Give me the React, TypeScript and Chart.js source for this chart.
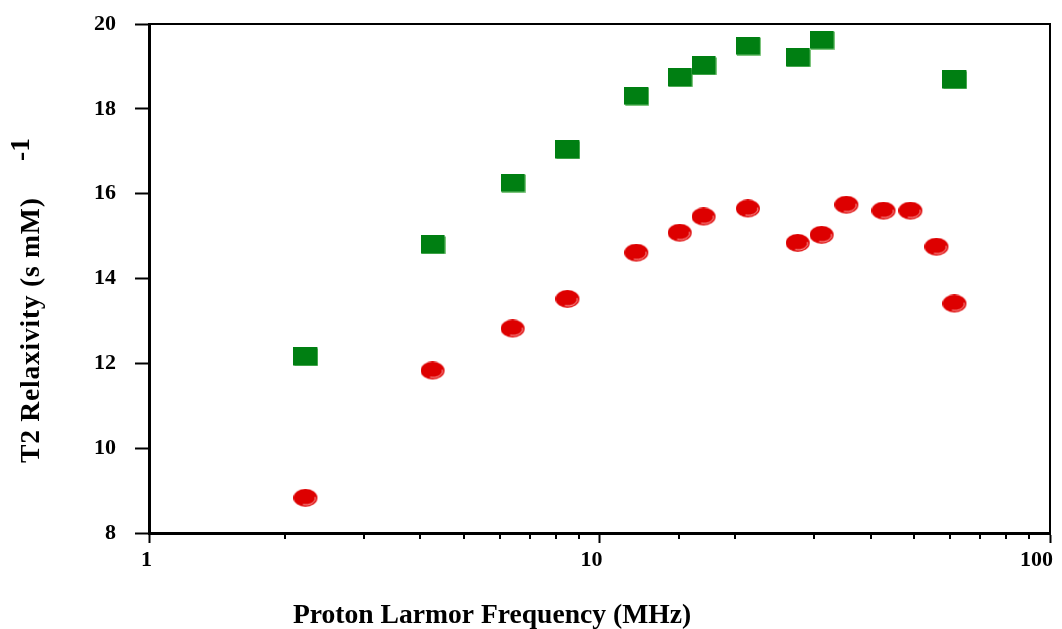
import React, { useEffect, useRef } from "react";
import { Chart, registerables } from "chart.js";

Chart.register(...registerables);

// ---- Data ----
const greenFreqs = [2.23, 4.27, 6.43, 8.51, 12.1, 15.1, 17.06, 21.4, 27.6, 31.2, 61.5];
const greenR2 = [12.15, 14.79, 16.25, 17.03, 18.3, 18.73, 19.01, 19.48, 19.2, 19.62, 18.68];
const redFreqs = [2.23, 4.27, 6.43, 8.51, 12.1, 15.1, 17.06, 21.4, 27.6, 31.2, 35.4, 42.8, 49.1, 56.1, 61.5];
const redR2 = [8.82, 11.82, 12.81, 13.51, 14.6, 15.07, 15.45, 15.64, 14.83, 15.02, 15.73, 15.59, 15.59, 14.74, 13.4];
const xMajorLabels = [1, 10, 100];
const xTitle = "Proton Larmor Frequency (MHz)";
const yTitle = "T2 Relaxivity (s mM)";
const yTitleSup = "-1";

const FONT_FAMILY = '"Liberation Serif", "Times New Roman", serif';

function makeRectMarker(): HTMLCanvasElement {
  const c = document.createElement("canvas");
  c.width = 25;
  c.height = 19;
  const g = c.getContext("2d")!;
  g.fillStyle = "#007f12";
  g.fillRect(0, 0, 24, 18);
  g.strokeStyle = "rgba(110,190,110,0.9)";
  g.lineWidth = 1;
  g.beginPath();
  g.moveTo(24.5, 1);
  g.lineTo(24.5, 18.5);
  g.lineTo(1, 18.5);
  g.stroke();
  return c;
}

function makeEllipseMarker(): HTMLCanvasElement {
  const c = document.createElement("canvas");
  c.width = 25;
  c.height = 19;
  const g = c.getContext("2d")!;
  g.fillStyle = "#dd0000";
  g.beginPath();
  g.ellipse(12, 9, 12, 9, 0, 0, Math.PI * 2);
  g.fill();
  g.strokeStyle = "rgba(255,190,190,0.9)";
  g.lineWidth = 1;
  g.beginPath();
  g.ellipse(12.5, 9.5, 9.5, 6.5, 0, -0.2, Math.PI * 0.6);
  g.stroke();
  return c;
}

const frameAndTextPlugin = {
  id: "frameAndText",
  afterDraw(chart: any) {
    const { ctx, chartArea } = chart;
    const xs = chart.scales.x;
    ctx.save();
    ctx.strokeStyle = "#000";
    // top and right thin frame
    ctx.lineWidth = 2;
    ctx.beginPath();
    ctx.moveTo(chartArea.left, chartArea.top);
    ctx.lineTo(chartArea.right, chartArea.top);
    ctx.lineTo(chartArea.right, chartArea.bottom);
    ctx.stroke();
    // minor ticks on x axis
    ctx.lineWidth = 2;
    for (const t of xs.ticks) {
      if (xMajorLabels.includes(t.value)) continue;
      const px = Math.round(xs.getPixelForValue(t.value));
      ctx.beginPath();
      ctx.moveTo(px, chartArea.bottom);
      ctx.lineTo(px, chartArea.bottom + 6);
      ctx.stroke();
    }
    // titles
    ctx.fillStyle = "#000";
    ctx.font = `bold 27.6px ${FONT_FAMILY}`;
    ctx.textAlign = "center";
    ctx.textBaseline = "alphabetic";
    ctx.fillText(xTitle, 492, 623);
    ctx.save();
    ctx.translate(39, 463);
    ctx.rotate(-Math.PI / 2);
    ctx.textAlign = "left";
    try {
      (ctx as any).letterSpacing = "0.75px";
    } catch (e) {}
    ctx.fillText(yTitle, 0, 0);
    try {
      (ctx as any).letterSpacing = "0px";
    } catch (e) {}
    ctx.restore();
    ctx.save();
    ctx.translate(29, 161);
    ctx.rotate(-Math.PI / 2);
    ctx.textAlign = "left";
    ctx.fillText(yTitleSup, 0, 0);
    ctx.restore();
    ctx.restore();
  },
};

export default function App() {
  const ref = useRef<HTMLCanvasElement | null>(null);

  useEffect(() => {
    if (!ref.current) return;
    const rectImg = makeRectMarker();
    const ellImg = makeEllipseMarker();
    const chart = new Chart(ref.current, {
      type: "scatter",
      data: {
        datasets: [
          {
            label: "green",
            data: greenFreqs.map((f, i) => ({ x: f, y: greenR2[i] })),
            pointStyle: rectImg as any,
            backgroundColor: "#007f12",
          },
          {
            label: "red",
            data: redFreqs.map((f, i) => ({ x: f, y: redR2[i] })),
            pointStyle: ellImg as any,
            backgroundColor: "#dd0000",
          },
        ],
      },
      options: {
        animation: false,
        responsive: false,
        devicePixelRatio: 1,
        layout: { padding: { top: 24, right: 12, left: 0, bottom: 0 } },
        plugins: {
          legend: { display: false },
          tooltip: { enabled: false },
          title: { display: false },
        },
        events: [],
        scales: {
          x: {
            type: "logarithmic",
            min: 1,
            max: 100,
            position: "bottom",
            afterFit: (s: any) => {
              s.height = 96;
              s.paddingLeft = 0;
              s.paddingRight = 0;
            },
            border: { display: true, color: "#000", width: 3 },
            grid: {
              drawOnChartArea: false,
              drawTicks: true,
              tickLength: 10,
              tickWidth: 2,
              tickColor: (c: any) =>
                c.tick && xMajorLabels.includes(c.tick.value) ? "#000" : "rgba(0,0,0,0)",
            },
            ticks: {
              autoSkip: false,
              maxRotation: 0,
              minRotation: 0,
              align: "end",
              labelOffset: 3,
              padding: 4,
              color: "#000",
              font: { family: FONT_FAMILY, size: 22, weight: "bold" },
              callback: (v: any) => (xMajorLabels.includes(Number(v)) ? String(v) : ""),
            },
          },
          y: {
            type: "linear",
            min: 8,
            max: 20,
            afterFit: (s: any) => {
              s.width = 149;
              s.paddingTop = 0;
              s.paddingBottom = 0;
            },
            border: { display: true, color: "#000", width: 3 },
            grid: {
              drawOnChartArea: false,
              drawTicks: true,
              tickLength: 14,
              tickWidth: 2,
              tickColor: "#000",
            },
            ticks: {
              stepSize: 2,
              padding: 19,
              color: "#000",
              font: { family: FONT_FAMILY, size: 22, weight: "bold" },
            },
          },
        },
      } as any,
      plugins: [frameAndTextPlugin],
    });
    return () => chart.destroy();
  }, []);

  return (
    <div style={{ position: "absolute", left: 0, top: 0, width: 1062, height: 629, background: "#fff" }}>
      <canvas ref={ref} width={1062} height={629} style={{ display: "block" }} />
    </div>
  );
}
